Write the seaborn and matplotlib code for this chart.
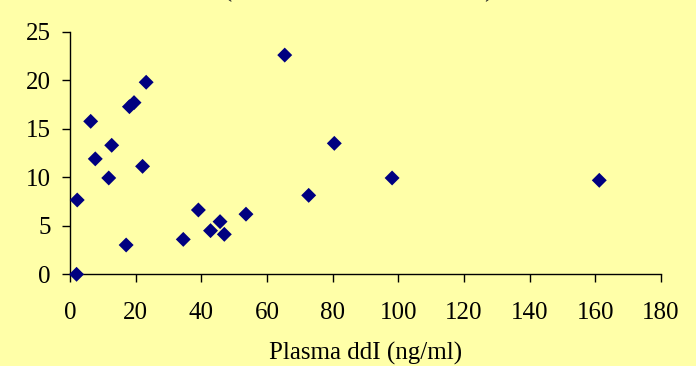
import matplotlib
matplotlib.use("Agg")
import matplotlib.pyplot as plt
import seaborn as sns
import pandas as pd

plasma_ddi = [2.0, 2.2, 6.3, 7.7, 11.8, 12.7, 17.1, 18.1, 19.5, 22.1, 23.2,
              34.5, 39.1, 42.8, 45.7, 47.0, 53.6, 65.4, 72.7, 80.5, 98.1, 161.2]
csf_value = [0.0, 7.66, 15.77, 11.9, 9.93, 13.3, 3.02, 17.28, 17.7, 11.13, 19.8,
             3.6, 6.63, 4.5, 5.43, 4.12, 6.2, 22.6, 8.14, 13.5, 9.93, 9.69]
x_ticks = [0, 20, 40, 60, 80, 100, 120, 140, 160, 180]
y_ticks = [0, 5, 10, 15, 20, 25]
x_label = "Plasma ddI (ng/ml)"

df = pd.DataFrame({"x": plasma_ddi, "y": csf_value})

sns.set_style("ticks")
plt.rcParams["font.family"] = ["Liberation Serif", "DejaVu Serif"]

bg = "#FFFFA8"
fig = plt.figure(figsize=(6.96, 3.66), dpi=100, facecolor=bg)
ax = fig.add_axes([70/696, 1-274.3/366, (661-70)/696, (274.3-31.8)/366])
ax.set_facecolor(bg)

sns.scatterplot(data=df, x="x", y="y", ax=ax, marker="D", s=58,
                color="#000080", edgecolor="none", linewidth=0, zorder=3,
                clip_on=False)

ax.set_xlim(0, 180)
ax.set_ylim(0, 25)
ax.set_xticks(x_ticks)
ax.set_yticks(y_ticks)
ax.set_xticklabels([str(v) for v in x_ticks])
ax.set_yticklabels([str(v) for v in y_ticks])
for s in ["top", "right"]:
    ax.spines[s].set_visible(False)
for s in ["left", "bottom"]:
    ax.spines[s].set_color("black")
    ax.spines[s].set_linewidth(1.0)
ax.tick_params(axis="x", direction="out", length=6, width=1, pad=14,
               labelsize=18, colors="black")
ax.tick_params(axis="y", direction="out", length=6, width=1, pad=8,
               labelsize=18, colors="black")
ax.set_xlabel(x_label, fontsize=18, labelpad=13, color="black")
ax.set_ylabel("")

fig.text(227/696, 1.01, "(", fontsize=20, ha="center", va="baseline")
fig.text(489/696, 1.01, ")", fontsize=20, ha="center", va="baseline")

fig.savefig("out.png", dpi=100, facecolor=bg)
